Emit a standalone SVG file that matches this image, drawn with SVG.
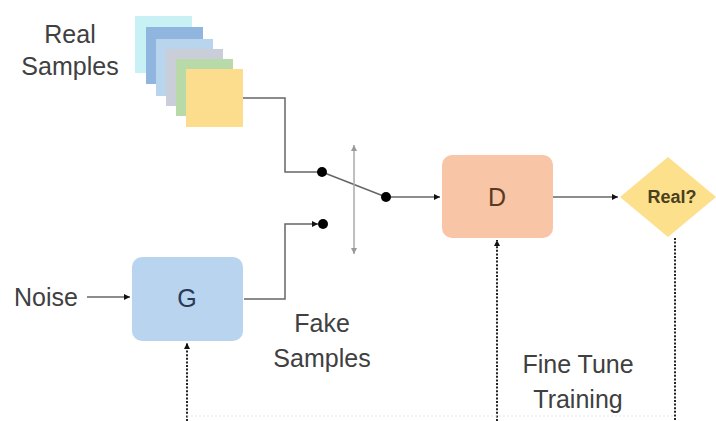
<svg xmlns="http://www.w3.org/2000/svg" width="716" height="421" viewBox="0 0 716 421">
<defs>
<marker id="ah" viewBox="0 0 10 10" refX="10" refY="5" markerWidth="6" markerHeight="6" orient="auto-start-reverse" markerUnits="userSpaceOnUse"><path d="M0,0 L10,5 L0,10 z" fill="#111"/></marker>
<marker id="gh" viewBox="0 0 10 10" refX="10" refY="5" markerWidth="6" markerHeight="6" orient="auto-start-reverse" markerUnits="userSpaceOnUse"><path d="M0,0 L10,5 L0,10 z" fill="#999"/></marker>
</defs>
<style>
.lbl{font-family:"Liberation Sans",Arial,sans-serif;font-size:25px;fill:#404040;text-anchor:middle}
.nl{font-family:"Liberation Sans",Arial,sans-serif;font-size:25px;text-anchor:middle}
.ln{fill:none;stroke:#666;stroke-width:1.5}
.dt{fill:none;stroke:#222;stroke-width:2;stroke-dasharray:2,1.6}
.sq{stroke:none}
</style>
<rect width="716" height="421" fill="#fff"/>
<g id="real-samples">
<rect class="sq" x="135" y="16" width="57" height="57" fill="#c8f1f5"/>
<rect class="sq" x="146" y="27" width="57" height="57" fill="#90b5de"/>
<rect class="sq" x="156" y="39" width="57" height="57" fill="#b9d5ee"/>
<rect class="sq" x="166" y="49" width="57" height="57" fill="#c9ced8"/>
<rect class="sq" x="176" y="59" width="57" height="57" fill="#b8d9a8"/>
<rect class="sq" x="186" y="69" width="57" height="58" fill="#fcdd8e"/>
<text class="lbl" x="70" y="43">Real</text>
<text class="lbl" x="70" y="75">Samples</text>
</g>
<g id="noise"><text class="lbl" x="46" y="306">Noise</text></g>
<g id="G">
<rect x="132" y="257" width="111" height="84" rx="10" fill="#b8d4ee"/>
<text class="nl" x="187" y="307" fill="#2a3a55">G</text>
</g>
<g id="fake-samples">
<text class="lbl" x="322" y="332">Fake</text>
<text class="lbl" x="322" y="367">Samples</text>
</g>
<g id="D">
<rect x="442" y="155" width="111" height="83" rx="10" fill="#f8c5a6"/>
<text class="nl" x="497" y="206" fill="#5a3a20">D</text>
</g>
<g id="real-q">
<polygon points="668,157 716,197 668,237 620,197" fill="#fde08b"/>
<text x="672" y="203" font-family="Liberation Sans,Arial,sans-serif" font-size="18" font-weight="bold" fill="#4a4020" text-anchor="middle">Real?</text>
</g>
<g id="fine-tune">
<text class="lbl" x="578" y="373">Fine Tune</text>
<text class="lbl" x="578" y="408">Training</text>
</g>
<g id="connectors">
<polyline class="ln" points="243,98 285,98 285,172 322,172"/>
<line class="ln" x1="322" y1="172" x2="386" y2="197"/>
<line class="ln" x1="386" y1="197" x2="440" y2="197" marker-end="url(#ah)"/>
<polyline class="ln" points="244,299 285,299 285,224 318,224" marker-end="url(#ah)"/>
<line x1="354" y1="145" x2="354" y2="254" stroke="#aaa" stroke-width="1.5" marker-start="url(#gh)" marker-end="url(#gh)"/>
<circle cx="322" cy="172" r="5" fill="#000"/>
<circle cx="386" cy="197" r="5" fill="#000"/>
<circle cx="323" cy="224" r="5" fill="#000"/>
<line class="ln" x1="87" y1="297" x2="130" y2="297" marker-end="url(#ah)"/>
<line class="ln" x1="553" y1="197" x2="618" y2="197" marker-end="url(#ah)"/>
<line class="dt" x1="187" y1="421" x2="187" y2="343" marker-end="url(#ah)"/>
<line class="dt" x1="497" y1="421" x2="497" y2="240" marker-end="url(#ah)"/>
<line class="dt" x1="675" y1="238" x2="675" y2="421"/>
<line x1="187" y1="416" x2="675" y2="416" stroke="#e6e6e6" stroke-width="1.2" stroke-dasharray="2,2"/>
</g>
</svg>
